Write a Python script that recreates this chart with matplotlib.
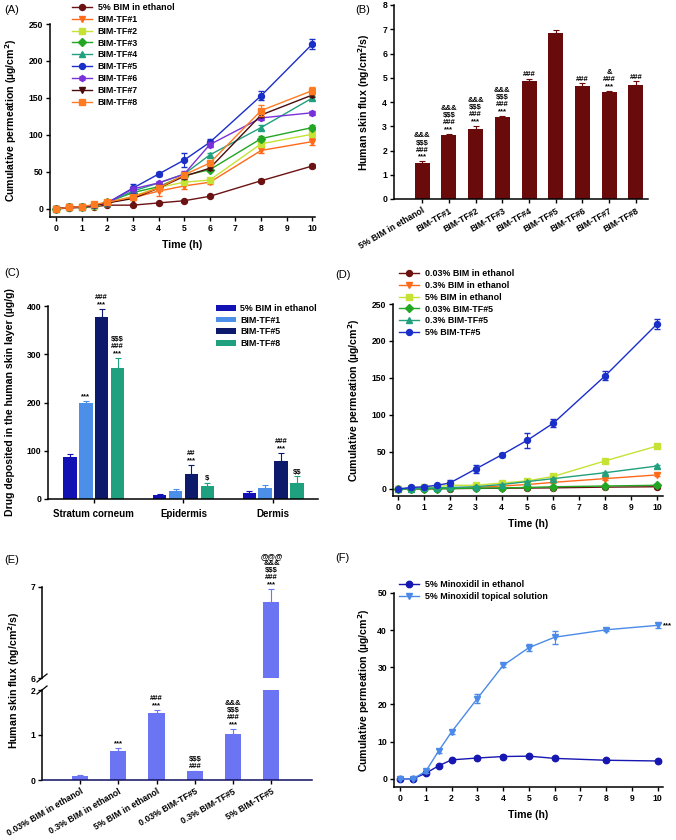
import numpy as np
import matplotlib
matplotlib.use('Agg')
import matplotlib.pyplot as plt

plt.rcParams['font.family'] = ['Liberation Sans', 'DejaVu Sans']
plt.rcParams['font.weight'] = 'bold'
plt.rcParams['axes.labelweight'] = 'bold'

# ---- data ----
time_h = [0, 0.5, 1, 1.5, 2, 3, 4, 5, 6, 8, 10]

# panel A
a_labels = ['5% BIM in ethanol', 'BIM-TF#1', 'BIM-TF#2', 'BIM-TF#3', 'BIM-TF#4',
            'BIM-TF#5', 'BIM-TF#6', 'BIM-TF#7', 'BIM-TF#8']
a_eth5 = [0, 1, 2, 3, 5, 5, 8, 11, 17, 38, 58]
a_tf1 = [0, 2, 3, 4, 8, 15, 24, 31, 36, 79, 91]
a_tf2 = [0, 2, 3, 4, 8, 17, 29, 36, 39, 88, 101]
a_tf3 = [0, 2, 3, 5, 9, 22, 30, 45, 53, 95, 110]
a_tf4 = [0, 2, 3, 5, 8, 24, 35, 47, 73, 110, 150]
a_tf5 = [0, 2, 3, 5, 8, 28, 47, 66, 90, 153, 223]
a_tf6 = [0, 2, 3, 5, 8, 27, 35, 47, 87, 123, 130]
a_tf7 = [0, 2, 3, 5, 8, 14, 28, 44, 55, 127, 154]
a_tf8 = [0, 2, 3, 6, 9, 16, 28, 46, 62, 133, 160]
a_err_eth5 = [0, 0.3, 0.5, 0.5, 0.5, 0.8, 1, 1.2, 1.5, 2, 2.5]
a_err_tf1 = [0, 0.5, 0.5, 0.5, 1, 2, 6, 4, 2, 4, 5]
a_err_tf2 = [0, 0.5, 0.5, 0.5, 1, 2, 3, 3, 2, 3, 3]
a_err_tf3 = [0, 0.5, 0.5, 0.5, 1, 2, 2, 3, 2, 3, 3]
a_err_tf4 = [0, 0.5, 0.5, 0.5, 1, 2, 2, 3, 3, 3, 3]
a_err_tf5 = [0, 0.5, 0.5, 0.5, 1, 6, 3, 10, 5, 6, 7]
a_err_tf6 = [0, 0.5, 0.5, 0.5, 1, 3, 2, 4, 3, 3, 3]
a_err_tf7 = [0, 0.5, 0.5, 0.5, 1, 2, 2, 3, 3, 3, 3]
a_err_tf8 = [0, 0.5, 0.5, 0.5, 1, 2, 3, 3, 3, 7, 5]

# panel B
b_labels = ['5% BIM in ethanol', 'BIM-TF#1', 'BIM-TF#2', 'BIM-TF#3', 'BIM-TF#4',
            'BIM-TF#5', 'BIM-TF#6', 'BIM-TF#7', 'BIM-TF#8']
b_flux = [1.48, 2.65, 2.87, 3.38, 4.85, 6.85, 4.65, 4.40, 4.70]
b_err = [0.07, 0.03, 0.13, 0.05, 0.10, 0.12, 0.12, 0.05, 0.15]
b_sig = ['&&&\n$$$\n###\n***', '&&&\n$$$\n###\n***', '&&&\n$$$\n###\n***',
         '&&&\n$$$\n###\n***', '###', '', '###', '&\n###\n***', '###']

# panel C
c_layers = ['Stratum corneum', 'Epidermis', 'Dermis']
c_groups = ['5% BIM in ethanol', 'BIM-TF#1', 'BIM-TF#5', 'BIM-TF#8']
c_eth5 = [88, 8, 12]
c_tf1 = [198, 16, 22]
c_tf5 = [377, 51, 78]
c_tf8 = [272, 26, 34]
c_err_eth5 = [6, 2, 4]
c_err_tf1 = [5, 4, 8]
c_err_tf5 = [17, 20, 18]
c_err_tf8 = [20, 8, 13]
c_sig_eth5 = ['', '', '']
c_sig_tf1 = ['***', '', '']
c_sig_tf5 = ['###\n***', '##\n***', '###\n***']
c_sig_tf8 = ['$$$\n###\n***', '$', '$$']

# panel D
d_labels = ['0.03% BIM in ethanol', '0.3% BIM in ethanol', '5% BIM in ethanol',
            '0.03% BIM-TF#5', '0.3% BIM-TF#5', '5% BIM-TF#5']
d_eth003 = [0, 0, 0.2, 0.3, 0.5, 0.8, 1, 1.2, 1.5, 2.5, 3]
d_eth03 = [0, 0.3, 0.5, 0.8, 1, 2, 4, 6, 9, 14, 19]
d_eth5 = [0, 1, 2, 3, 5, 5, 8, 11, 17, 38, 58]
d_tf003 = [0, 0.2, 0.3, 0.5, 0.7, 1, 1.5, 2, 3, 4, 5]
d_tf03 = [0, 0.5, 1, 1.5, 2, 3, 6, 10, 14, 22, 31]
d_tf5 = [0, 2, 3, 5, 8, 27, 46, 66, 89, 153, 223]
d_err_tf5 = [0, 0.5, 0.5, 1, 4, 6, 3, 10, 5, 6, 7]
d_err_small = [0, 0.2, 0.2, 0.3, 0.3, 0.5, 0.8, 1, 1, 1.5, 2]

# panel E
e_labels = ['0.03% BIM in ethanol', '0.3% BIM in ethanol', '5% BIM in ethanol',
            '0.03% BIM-TF#5', '0.3% BIM-TF#5', '5% BIM-TF#5']
e_flux = [0.10, 0.64, 1.49, 0.19, 1.02, 6.84]
e_err = [0.005, 0.08, 0.07, 0.01, 0.12, 0.14]
e_sig = ['', '***', '###\n***', '$$$\n###', '&&&\n$$$\n###\n***',
         '@@@\n&&&\n$$$\n###\n***']

# panel F
f_labels = ['5% Minoxidil in ethanol', '5% Minoxidil topical solution']
f_eth = [0, 0, 1.5, 3.5, 5.1, 5.6, 6.0, 6.1, 5.5, 5.0, 4.8]
f_sol = [0, 0, 2.0, 7.5, 12.6, 21.6, 30.5, 35.3, 38.1, 40.1, 41.3]
f_err_eth = [0, 0, 0.2, 0.3, 0.3, 0.3, 0.3, 0.3, 0.3, 0.3, 0.3]
f_err_sol = [0, 0, 0.3, 0.5, 0.5, 1.2, 0.5, 1.0, 1.7, 0.4, 0.7]

# ---- styling ----
W, H = 676, 840
TICK = 6.2
LAB = 7.6
LEG = 6.4
SIG = 5.5


def ax_px(l, t, r, b):
    return [l / W, 1 - b / H, (r - l) / W, (b - t) / H]


def style(ax):
    for s in ['top', 'right']:
        ax.spines[s].set_visible(False)
    for s in ['left', 'bottom']:
        ax.spines[s].set_linewidth(1.1)
    ax.tick_params(direction='out', length=3, width=1, labelsize=TICK, pad=2)
    for lab in ax.get_xticklabels() + ax.get_yticklabels():
        lab.set_fontweight('bold')


def sig_text(ax, x, y, txt, size=SIG):
    if txt:
        ax.annotate(txt, xy=(x, y), xytext=(0, 0.5), textcoords='offset points',
                    ha='center', va='bottom', fontsize=size, fontweight='bold',
                    linespacing=1.02, annotation_clip=False, parse_math=False)


def curve(ax, xs, ys, es, c, m, lab, ms=4.3):
    ax.errorbar(xs, ys, yerr=es, fmt='none', ecolor=c, capsize=2.5, elinewidth=0.8)
    ax.plot(xs, ys, color=c, marker=m, ms=ms, lw=1, label=lab)


def legend_at(ax, x, y, **kw):
    opts = dict(loc='upper left', bbox_to_anchor=(x / W, 1 - y / H), bbox_transform=fig.transFigure,
                frameon=False, borderpad=0, borderaxespad=0, labelspacing=0.32,
                handlelength=2.3, handletextpad=0.6, prop={'weight': 'bold', 'size': LEG})
    opts.update(kw)
    ax.legend(**opts)


fig = plt.figure(figsize=(W / 100, H / 100), dpi=100)

# ---- (A) ----
axA = fig.add_axes(ax_px(50, 24, 315, 217))
a_series = [a_eth5, a_tf1, a_tf2, a_tf3, a_tf4, a_tf5, a_tf6, a_tf7, a_tf8]
a_errs = [a_err_eth5, a_err_tf1, a_err_tf2, a_err_tf3, a_err_tf4, a_err_tf5,
          a_err_tf6, a_err_tf7, a_err_tf8]
a_colors = ['#6b1212', '#ff6a1a', '#c6e234', '#23a623', '#20a07c',
            '#1a2ec8', '#7a30d8', '#4a0c0c', '#ff7b22']
a_markers = ['o', 'v', 's', 'D', '^', 'o', 'h', 'v', 's']
for ys, es, c, m, lab in zip(a_series, a_errs, a_colors, a_markers, a_labels):
    curve(axA, time_h, ys, es, c, m, lab, ms=4.3 if m != 'D' else 3.6)
axA.set_xlim(-0.23, 10.1)
axA.set_ylim(-11, 250)
axA.set_xticks(range(0, 11))
axA.set_yticks([0, 50, 100, 150, 200, 250])
axA.set_xlabel('Time (h)', fontsize=LAB, labelpad=5)
axA.set_ylabel('Cumulative permeation (µg/cm$^\\mathbf{2}$)', fontsize=LAB)
axA.yaxis.set_label_coords(-0.117, 0.5)
style(axA)
legend_at(axA, 72, 3)

# ---- (B) ----
axB = fig.add_axes(ax_px(394, 5, 648, 199))
xb = np.arange(len(b_labels))
axB.bar(xb, b_flux, width=0.56, color='#6a0b0b', yerr=[np.zeros(len(b_err)), b_err],
        error_kw=dict(ecolor='#6a0b0b', capsize=2.5, elinewidth=0.8, capthick=0.8))
for x, v, e, s in zip(xb, b_flux, b_err, b_sig):
    sig_text(axB, x, v + e, s)
axB.set_xlim(-1.05, 8.45)
axB.set_ylim(0, 8)
axB.set_xticks(xb)
axB.set_xticklabels(b_labels, rotation=30, ha='right', rotation_mode='anchor')
axB.set_ylabel('Human skin flux (ng/cm$^\\mathbf{2}$/s)', fontsize=LAB)
axB.yaxis.set_label_coords(-0.087, 0.5)
style(axB)

# ---- (C) ----
axC = fig.add_axes(ax_px(48, 306, 318, 499))
xc = np.arange(len(c_layers))
c_series = [c_eth5, c_tf1, c_tf5, c_tf8]
c_errs = [c_err_eth5, c_err_tf1, c_err_tf5, c_err_tf8]
c_sigs = [c_sig_eth5, c_sig_tf1, c_sig_tf5, c_sig_tf8]
c_colors = ['#1212b4', '#4b8fe8', '#0d1a6c', '#1fa07e']
offs = [-1.5, -0.5, 0.5, 1.5]
for ys, es, ss, c, o, lab in zip(c_series, c_errs, c_sigs, c_colors, offs, c_groups):
    pos = xc + o * 0.177
    axC.bar(pos, ys, width=0.15, color=c, label=lab, yerr=[np.zeros(len(es)), es],
            error_kw=dict(ecolor=c, capsize=2.2, elinewidth=0.8, capthick=0.8))
    for x, v, e, s in zip(pos, ys, es, ss):
        sig_text(axC, x, v + e, s)
axC.set_xlim(-0.51, 2.5)
axC.set_ylim(0, 400)
axC.set_xticks(xc)
axC.set_xticklabels(c_layers)
axC.set_yticks([0, 100, 200, 300, 400])
axC.set_ylabel('Drug deposited in the human skin layer (µg/g)', fontsize=LAB)
axC.yaxis.set_label_coords(-0.122, 0.5)
style(axC)
axC.tick_params(axis='x', labelsize=LAB - 0.6, pad=4)
legend_at(axC, 216, 304, labelspacing=0.3, handleheight=0.6, handletextpad=0.4)

# ---- (D) ----
axD = fig.add_axes(ax_px(393, 304, 663, 496))
d_series = [d_eth003, d_eth03, d_eth5, d_tf003, d_tf03, d_tf5]
d_errs = [d_err_small, d_err_small, d_err_small, d_err_small, d_err_small, d_err_tf5]
d_colors = ['#6b1212', '#ff6a1a', '#c6e234', '#23a623', '#20a07c', '#1a2ec8']
d_markers = ['o', 'v', 's', 'D', '^', 'o']
for ys, es, c, m, lab in zip(d_series, d_errs, d_colors, d_markers, d_labels):
    curve(axD, time_h, ys, es, c, m, lab, ms=4.3 if m != 'D' else 3.6)
axD.set_xlim(-0.19, 10.23)
axD.set_ylim(-9.5, 250)
axD.set_xticks(range(0, 11))
axD.set_yticks([0, 50, 100, 150, 200, 250])
axD.set_xlabel('Time (h)', fontsize=LAB, labelpad=5)
axD.set_ylabel('Cumulative permeation (µg/cm$^\\mathbf{2}$)', fontsize=LAB)
axD.yaxis.set_label_coords(-0.115, 0.5)
style(axD)
legend_at(axD, 399, 269)

# ---- (E) broken axis ----
e_color = '#6b74f2'
xe = np.arange(len(e_labels))
axE1 = fig.add_axes(ax_px(42, 690, 312, 780))
axE2 = fig.add_axes(ax_px(42, 587, 312, 678))
for ax in (axE1, axE2):
    ax.bar(xe, e_flux, width=0.42, color=e_color,
           yerr=[np.zeros(len(e_err)), e_err],
           error_kw=dict(ecolor=e_color, capsize=2.5, elinewidth=0.8, capthick=0.8))
    ax.set_xlim(-0.99, 6.06)
    style(ax)
axE1.set_ylim(0, 2)
axE1.set_yticks([0, 1, 2])
axE1.spines['bottom'].set_color('#101060')
axE2.set_ylim(6, 7)
axE2.set_yticks([6, 7])
axE2.spines['bottom'].set_visible(False)
axE2.tick_params(axis='x', bottom=False, labelbottom=False)
for x, v, e, s in zip(xe, e_flux, e_err, e_sig):
    if v > 6:
        sig_text(axE2, x, v + e, s)
    else:
        sig_text(axE1, x, v + e, s)
axE1.set_xticks(xe)
axE1.set_xticklabels(e_labels, rotation=30, ha='right', rotation_mode='anchor')
# break marks
for yb in (678, 690):
    fig.add_artist(plt.Line2D([37 / W, 47 / W], [1 - (yb + 4) / H, 1 - (yb - 4) / H],
                              color='black', lw=0.9))
fig.text(14 / W, 1 - 680 / H, 'Human skin flux (ng/cm$^\\mathbf{2}$/s)', rotation=90,
         ha='center', va='center', fontsize=LAB, fontweight='bold')

# ---- (F) ----
axF = fig.add_axes(ax_px(394, 593, 663, 787))
curve(axF, time_h, f_eth, f_err_eth, '#1616b0', 'o', f_labels[0], ms=4.6)
curve(axF, time_h, f_sol, f_err_sol, '#4b8ae8', 'v', f_labels[1], ms=4.9)
axF.annotate('***', xy=(time_h[-1], f_sol[-1]), xytext=(4, 0), textcoords='offset points',
             ha='left', va='center', fontsize=SIG, fontweight='bold', annotation_clip=False)
axF.set_xlim(-0.23, 10.2)
axF.set_ylim(-2.2, 50)
axF.set_xticks(range(0, 11))
axF.set_yticks([0, 10, 20, 30, 40, 50])
axF.set_xlabel('Time (h)', fontsize=LAB, labelpad=5)
axF.set_ylabel('Cumulative permeation (µg/cm$^\\mathbf{2}$)', fontsize=LAB)
axF.yaxis.set_label_coords(-0.082, 0.5)
style(axF)
legend_at(axF, 399, 580)

# panel labels
for lab, x, y in [('(A)', 4, 10), ('(B)', 355, 10), ('(C)', 4, 273),
                  ('(D)', 335, 275), ('(E)', 4, 560), ('(F)', 335, 558)]:
    fig.text(x / W, 1 - y / H, lab, fontsize=8, fontweight='normal', va='center', ha='left')

fig.savefig('out.png', dpi=100)
